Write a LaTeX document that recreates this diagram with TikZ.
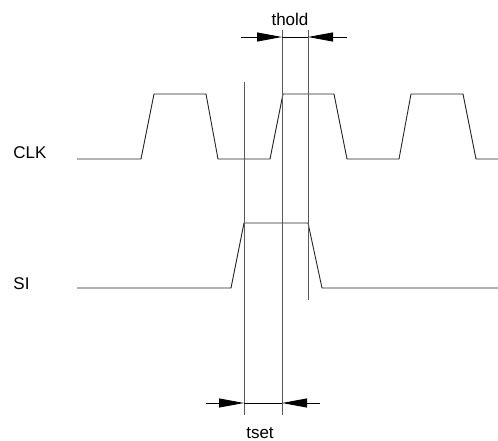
\documentclass[tikz,border=0pt]{standalone}
\usepackage{fontspec}
\setmainfont{Liberation Sans}
\usetikzlibrary{arrows.meta}

\begin{document}
\begin{tikzpicture}
[x=1pt,y=-1pt,line width=0.9pt,%
  wave/.style={black!85,line join=miter},%
  marker/.style={black!65},%
  dimtip/.style={-{Triangle[length=25pt,width=9pt]}},%
  every node/.style={inner sep=0pt,font=\fontsize{17}{17}\selectfont}]
\useasboundingbox (0,0) rectangle (498,441);
% signal names
\node[anchor=base west] (clk) at (13,159) {CLK};
\node[anchor=base west] (si) at (13,289) {SI};
% clock
\draw[wave] (77,159) -- (141,159) -- (154,94) -- (206,94) -- (218,159)
  -- (270,159) -- (283,94) -- (334,94) -- (347,159) -- (399,159)
  -- (411,94) -- (463,94) -- (476,159) -- (498,159);
% data input
\draw[wave] (77,288) -- (231,288) -- (244,223) -- (308,223) -- (322,288)
  -- (498,288);
% timing markers
\coordinate (setT) at (244,82);
\coordinate (setB) at (244,415);
\coordinate (clkT) at (282,30);
\coordinate (clkB) at (282,415);
\coordinate (holdT) at (308,30);
\coordinate (holdB) at (308,300);
\draw[marker] (setT) -- (setB);
\draw[marker] (clkT) -- (clkB);
\draw[marker] (holdT) -- (holdB);
% hold time
\coordinate (hl) at (241,37);
\coordinate (hc) at (clkT |- hl);
\coordinate (hh) at (holdT |- hl);
\coordinate (hr) at (347,37);
\draw[dimtip] (hl) -- (hc);
\draw (hc) -- (hh);
\draw[dimtip] (hr) -- (hh);
\node[anchor=base] (thold) at (290,26) {thold};
% setup time
\coordinate (sl) at (206,403);
\coordinate (ss) at (setB |- sl);
\coordinate (sc) at (clkB |- sl);
\coordinate (sr) at (320,403);
\draw[dimtip] (sl) -- (ss);
\draw (ss) -- (sc);
\draw[dimtip] (sr) -- (sc);
\node[anchor=base] (tset) at (260,438) {tset};
\end{tikzpicture}
\end{document}
